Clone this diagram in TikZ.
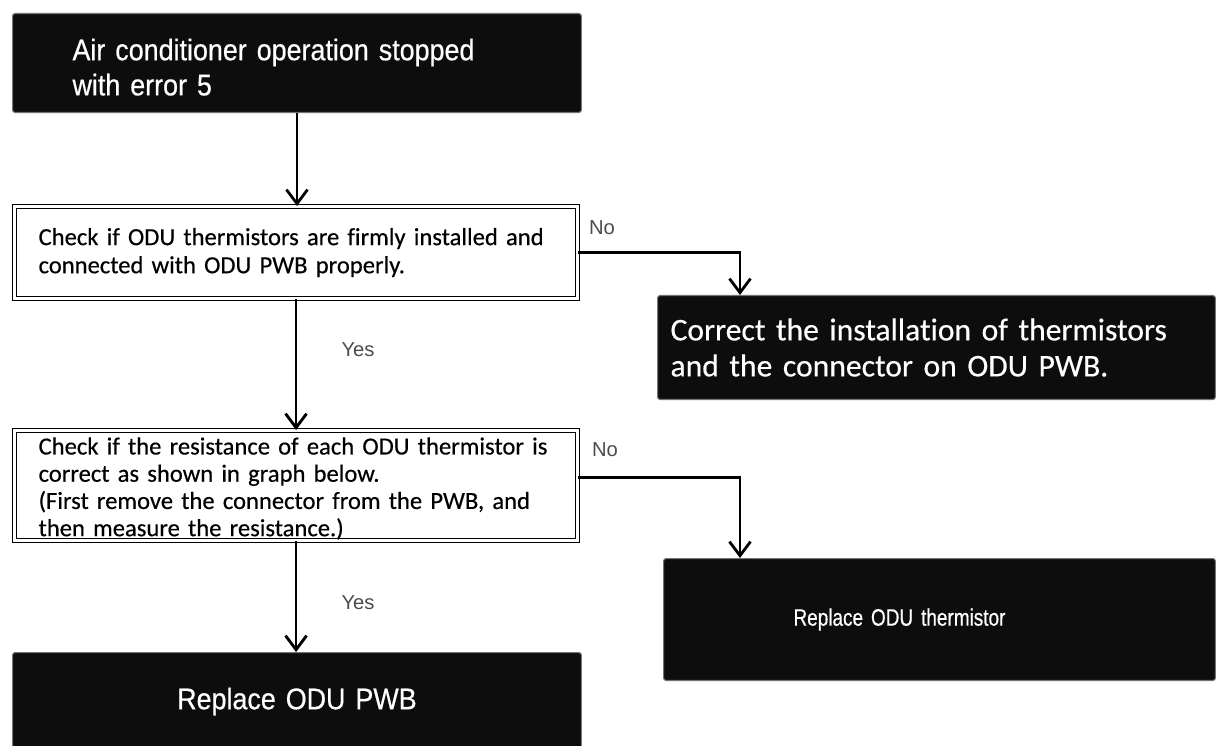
\documentclass[tikz,border=0pt]{standalone}
\usepackage{fontspec}
\usetikzlibrary{arrows.meta, positioning}
\setmainfont{Carlito}[Ligatures=CommonOff, FakeBold=0.4]
\newfontfamily\gothfont{Liberation Sans}[FakeStretch=0.9, FakeBold=0.5]
\newfontfamily\narrowfont{Liberation Sans}[FakeStretch=0.8, FakeBold=0.5]
\newfontfamily\labfont{Liberation Sans}

\tikzset{
  endbox/.style={fill=black!95, draw=black!55, line width=0.6pt,
    rounded corners=1.5pt, text=white, inner ysep=0pt, anchor=north west},
  chkbox/.style={draw, double, double distance=1.6pt, line width=0.7pt,
    fill=white, align=left, inner ysep=0pt, anchor=north west,
    font=\fontsize{14}{16}\selectfont},
  flow/.style={line width=1.6pt, -{Straight Barb[length=8pt,width=12pt]}},
  answer/.style={font=\labfont\fontsize{11.5}{13}\selectfont, text=black!70},
}

\begin{document}
\begin{tikzpicture}[x=0.02cm, y=-0.02cm]
\useasboundingbox (0,0) rectangle (1216,746);

%% ---- left column: start, checks, final action -------------------
\node[endbox, text width=8.98cm, inner xsep=1.2cm, minimum height=1.98cm,
  align=left, font=\gothfont\fontsize{17}{20}\selectfont] (start) at (12,13)
  {\rule{0pt}{17pt}Air conditioner operation stopped\\with error 5};

\node[chkbox, text width=10.3cm, inner xsep=0.48cm, minimum height=1.84cm]
  (chk1) at (14,206)
  {Check if ODU thermistors are firmly installed and\\
   connected with ODU PWB properly.};

\node[chkbox, text width=10.3cm, inner xsep=0.48cm, minimum height=2.2cm,
  font=\fontsize{14}{15.5}\selectfont]
  (chk2) at (14,430)
  {\rule{0pt}{13pt}Check if the resistance of each ODU thermistor is\\
   correct as shown in graph below.\\
   (First remove the connector from the PWB, and\\
   then measure the resistance.)};

\node[endbox, text width=8.98cm, inner xsep=1.2cm, minimum height=1.96cm,
  align=center, font=\gothfont\fontsize{17}{20}\selectfont] (pwb) at (12,652)
  {Replace ODU PWB};

%% ---- right column: corrective actions ---------------------------
\node[endbox, text width=10.64cm, inner xsep=0.26cm, minimum height=2.08cm,
  align=left, font=\fontsize{18}{20.5}\selectfont] (fix1) at (657,295)
  {Correct the installation of thermistors\\and the connector on ODU PWB.};

\node[endbox, text width=5.84cm, inner xsep=2.6cm, minimum height=2.44cm,
  align=left, font=\narrowfont\fontsize{13.5}{16}\selectfont] (fix2) at (663,558)
  {Replace ODU thermistor};

% Yes / No answers
\node[answer] (no1) at (602,228) {No};
\node[answer] (yes1) at (358,350) {Yes};
\node[answer] (no2) at (605,450) {No};
\node[answer] (yes2) at (358,603) {Yes};

% Connectors
\draw[flow] (start.south) -- (start.south |- chk1.north);
\draw[flow] (chk1.south) -- (chk1.south |- chk2.north);
\draw[flow] (chk2.south) -- (chk2.south |- pwb.north);
\draw[flow] (chk1.east) -| ([xshift=1.66cm]fix1.north west);
\draw[flow] ([yshift=0.16cm]chk2.east) -| ([xshift=1.54cm]fix2.north west);

\end{tikzpicture}
\end{document}
